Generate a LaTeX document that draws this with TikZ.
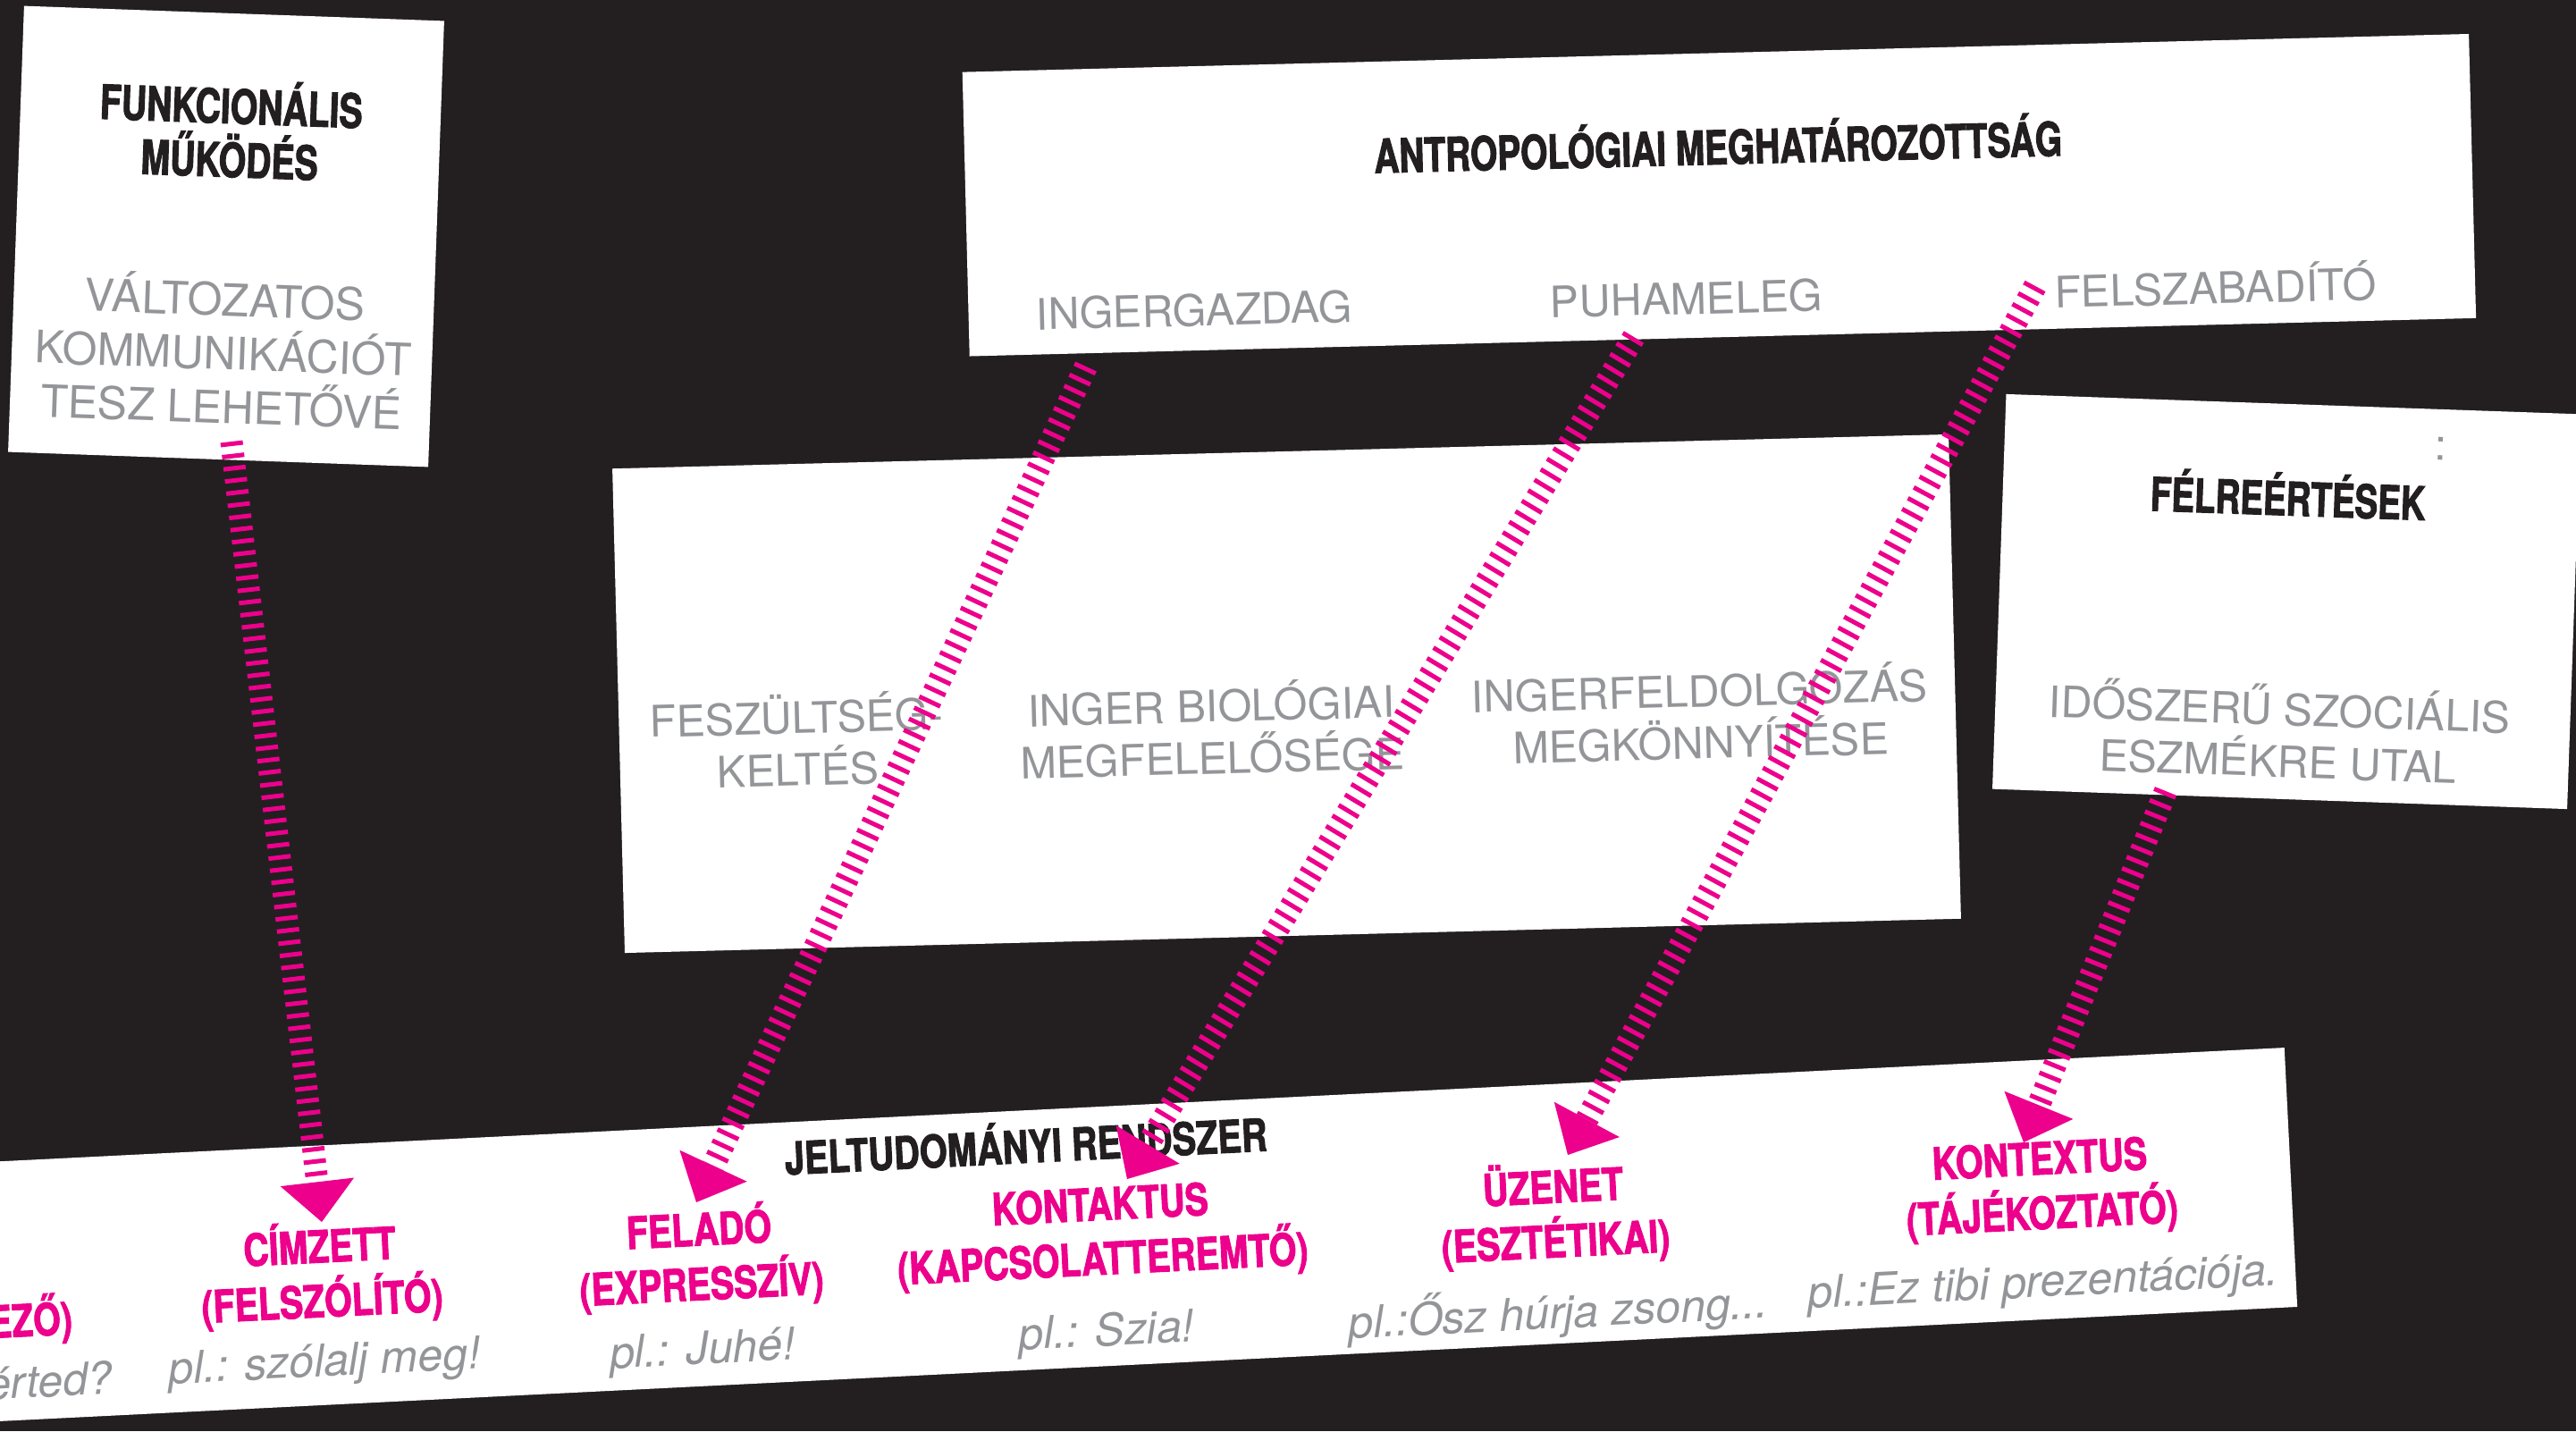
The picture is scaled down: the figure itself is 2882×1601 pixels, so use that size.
\documentclass[tikz,border=0pt]{standalone}
\usepackage{fontspec}
\setmainfont{TeX Gyre Heros}
\newfontfamily\condfont{TeX Gyre Heros}[FakeStretch=0.79,BoldFeatures={FakeBold=1.8}]
\newfontfamily\narrowfont{TeX Gyre Heros}[FakeStretch=0.74,BoldFeatures={FakeBold=1.8}]
\usetikzlibrary{arrows.meta}
\definecolor{bgdark}{HTML}{231F20}
\definecolor{hotpink}{HTML}{EC008C}
\definecolor{txtgray}{HTML}{939598}
\definecolor{inkblack}{HTML}{231F20}
\newcommand\fntGray{\fontsize{48.5}{58}\selectfont}
\newcommand\fntGrayA{\fontsize{50}{60}\selectfont}
\newcommand\fntItal{\fontsize{50}{60}\selectfont\itshape}
\newcommand\fntHeadA{\narrowfont\bfseries\fontsize{53}{60}\selectfont}
\newcommand\fntHeadB{\narrowfont\bfseries\fontsize{52.5}{60}\selectfont}
\newcommand\fntHeadC{\narrowfont\bfseries\fontsize{52}{60}\selectfont}
\newcommand\fntBand{\condfont\bfseries\fontsize{50.4}{60}\selectfont}
\newcommand\fntPink{\condfont\bfseries\fontsize{49.8}{61}\selectfont}
\begin{document}
\begin{tikzpicture}[x=1pt,y=-1pt,
  card/.style={fill=white,draw=none,inner sep=0pt,outer sep=0pt},
  graylbl/.style={text=txtgray,font=\fntGray,align=center,inner sep=0pt},
  graylblA/.style={text=txtgray,font=\fntGrayA,align=center,inner sep=0pt},
  example/.style={text=txtgray,font=\fntItal,align=center,inner sep=0pt},
  headA/.style={text=inkblack,font=\fntHeadA,align=center,inner sep=0pt},
  headB/.style={text=inkblack,font=\fntHeadB,align=center,inner sep=0pt},
  headC/.style={text=inkblack,font=\fntHeadC,align=center,inner sep=0pt},
  bandhead/.style={text=inkblack,font=\fntBand,align=center,inner sep=0pt},
  pinklbl/.style={text=hotpink,font=\fntPink,align=center,inner sep=0pt},
  hatch/.style={draw=hotpink,line width=26pt,dash pattern=on 5pt off 8.7pt,
    -{Triangle[width=83pt,length=45pt,line width'=0pt]}}
]
\useasboundingbox (0,0) rectangle (2882,1601);
\fill[bgdark] (0,0) rectangle (2882,1601);

% cards
\node[card,minimum width=470.3pt,minimum height=499.3pt,rotate=-2.05] (box1) at (253,264.5) {};
\node[card,minimum width=1686pt,minimum height=318pt,rotate=1.45] (box2) at (1923.4,218.25) {};
\node[card,minimum width=1495.5pt,minimum height=542pt,rotate=1.47] (box3) at (1439.5,776) {};
\node[card,minimum width=643.4pt,minimum height=442pt,rotate=-2] (box4) at (2558.25,673) {};
\node[card,minimum width=2800pt,minimum height=290.3pt,rotate=2.85] (band) at (1164.7,1386.6) {};

% box 1
\node[headA,rotate=-2.05] (t1h) at (258,144) {FUNKCIONÁLIS\\MŰKÖDÉS};
\node[graylblA,rotate=-2.05] (t1g) at (250,391) {VÁLTOZATOS\\KOMMUNIKÁCIÓT\\TESZ LEHETŐVÉ};

% box 2
\node[headB,rotate=1.45] (t2h) at (1922,160) {ANTROPOLÓGIAI MEGHATÁROZOTTSÁG};
\node[graylbl,rotate=1.45] (t2a) at (1336,347) {INGERGAZDAG};
\node[graylbl,rotate=1.45] (t2b) at (1886.5,334) {PUHAMELEG};
\node[graylbl,rotate=1.45] (t2c) at (2478.5,318) {FELSZABADÍTÓ};

% box 3
\node[graylbl,rotate=1.47] (t3a) at (892,828) {FESZÜLTSÉG-\\KELTÉS};
\node[graylbl,rotate=1.47] (t3b) at (1355.5,815) {INGER BIOLÓGIAI\\MEGFELELŐSÉGE};
\node[graylbl,rotate=1.47] (t3c) at (1902,798) {INGERFELDOLGOZÁS\\MEGKÖNNYÍTÉSE};

% box 4
\node[headC,rotate=-2] (t4h) at (2560,553) {FÉLREÉRTÉSEK};
\node[graylbl,rotate=-2] (t4c) at (2731,502) {:};
\node[graylbl,rotate=-2] (t4g) at (2549.5,818) {IDŐSZERŰ SZOCIÁLIS\\ESZMÉKRE UTAL};

% band
\node[bandhead,rotate=2.85] (bh) at (1147.5,1278) {JELTUDOMÁNYI RENDSZER};
\node[pinklbl,rotate=2.85,anchor=east] (p0) at (81,1474) {EZŐ)};
\node[example,rotate=2.85,anchor=east] (e0) at (126,1541) {érted?};
\node[pinklbl,rotate=2.85] (p1) at (359,1425) {CÍMZETT\\(FELSZÓLÍTÓ)};
\node[example,rotate=2.85] (e1) at (363,1527) {pl.: szólalj meg!};
\node[pinklbl,rotate=2.85] (p2) at (783.5,1406) {FELADÓ\\(EXPRESSZÍV)};
\node[example,rotate=2.85] (e2) at (786,1513) {pl.: Juhé!};
\node[pinklbl,rotate=2.85] (p3) at (1232.5,1382) {KONTAKTUS\\(KAPCSOLATTEREMTŐ)};
\node[example,rotate=2.85] (e3) at (1238,1492) {pl.: Szia!};
\node[pinklbl,rotate=2.85] (p4) at (1739,1358.5) {ÜZENET\\(ESZTÉTIKAI)};
\node[example,rotate=2.85] (e4) at (1743,1468) {pl.:Ősz húrja zsong...};
\node[pinklbl,rotate=2.85] (p5) at (2283.5,1331) {KONTEXTUS\\(TÁJÉKOZTATÓ)};
\node[example,rotate=2.85] (e5) at (2286,1438) {pl.:Ez tibi prezentációja.};

% connector ends
\coordinate (a1s) at (259,494);   \coordinate (a1e) at (360,1367);
\coordinate (a2s) at (1215,410);  \coordinate (a2e) at (779,1345);
\coordinate (a3s) at (1828,377);  \coordinate (a3e) at (1261,1319);
\coordinate (a4s) at (2277,320);  \coordinate (a4e) at (1754,1292);
\coordinate (a5s) at (2423,885);  \coordinate (a5e) at (2264,1278);

\draw[hatch,line width=25pt] (a1s) -- (a1e);
\draw[hatch] (a2s) -- (a2e);
\draw[hatch] (a3s) -- (a3e);
\draw[hatch] (a4s) -- (a4e);
\draw[hatch] (a5s) -- (a5e);
\end{tikzpicture}
\end{document}
